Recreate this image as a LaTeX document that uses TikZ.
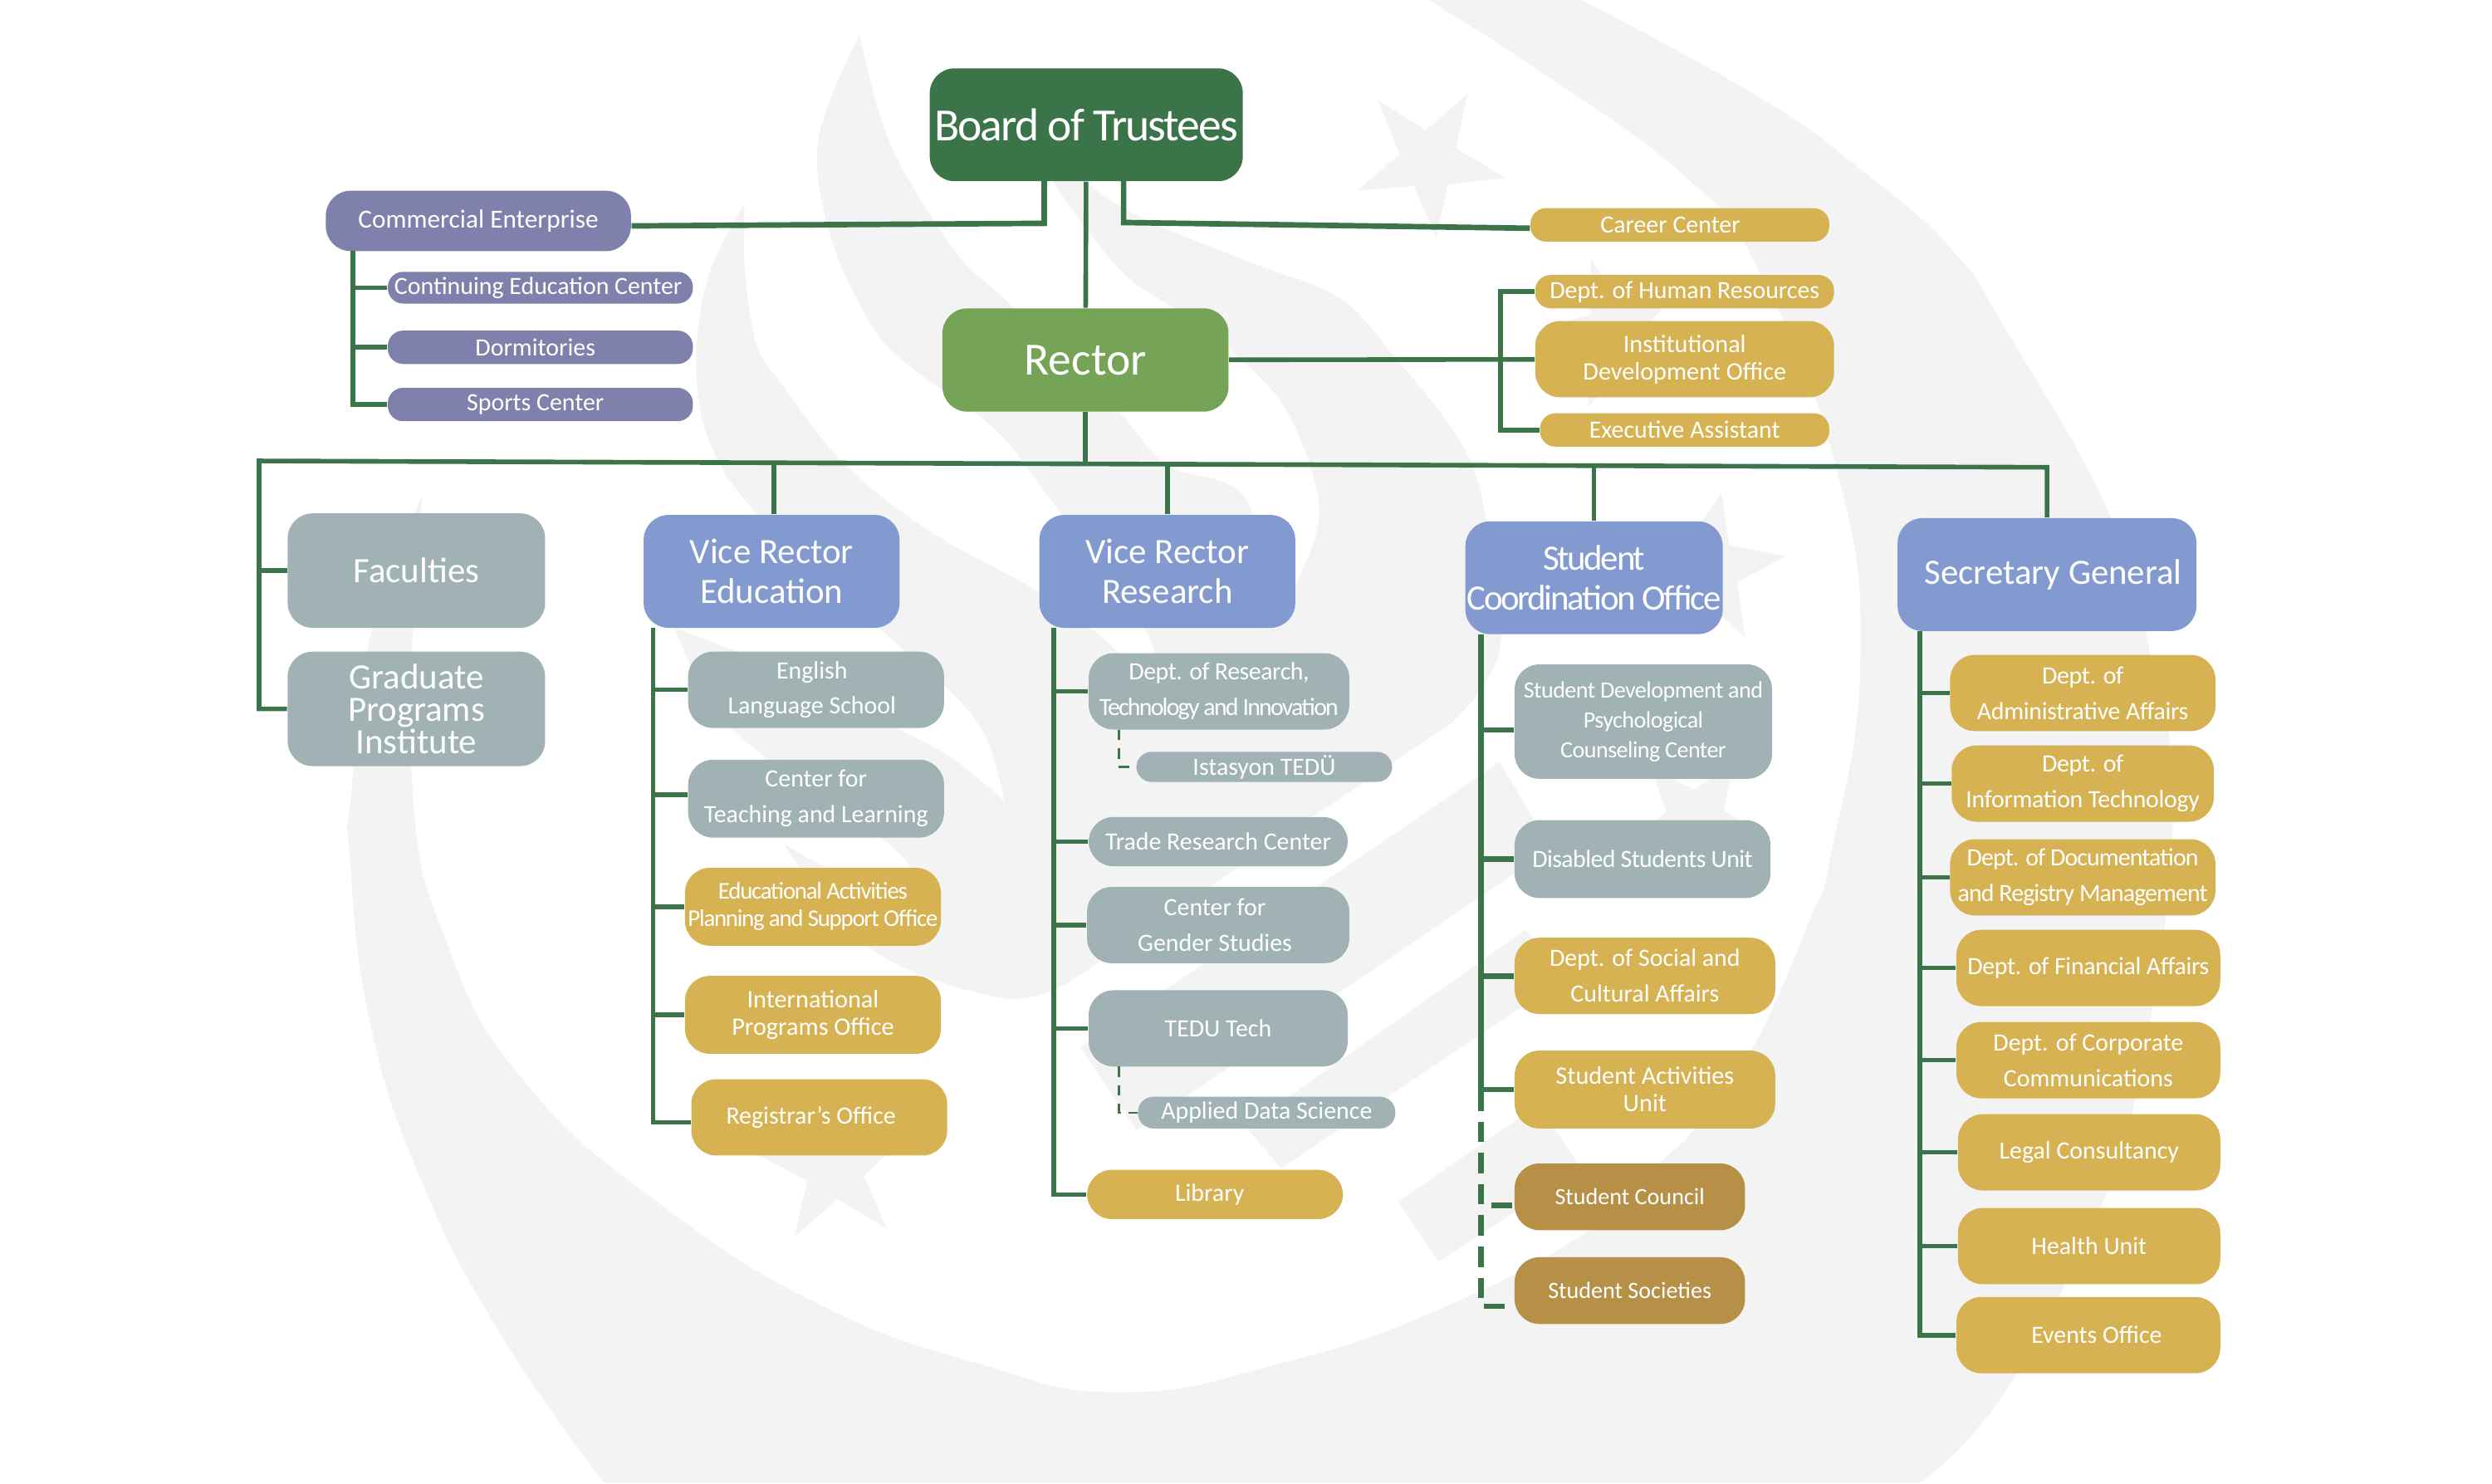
\documentclass[tikz,border=0pt]{standalone}
\usepackage{fontspec}
\setmainfont{Carlito}
\usepackage{tikz}
\definecolor{bggray}{HTML}{F3F3F3}
\definecolor{linegreen}{HTML}{3C7449}
\definecolor{boardgreen}{HTML}{3C7449}
\definecolor{rectorgreen}{HTML}{75A456}
\definecolor{enterprise}{HTML}{7F80AB}
\definecolor{gold}{HTML}{D6B252}
\definecolor{brown}{HTML}{B59046}
\definecolor{slategray}{HTML}{A0B2B4}
\definecolor{headblue}{HTML}{829AD0}
\newcommand{\tighter}[1]{\addfontfeature{LetterSpace=#1}}
\tikzset{wh/.style 2 args={minimum width=#1*0.01914cm, minimum height=#2*0.01914cm},
    squeeze/.style={execute at begin node={\tighter{#1}}}}
\tikzstyle{unit} = [rectangle, rounded corners=0.3cm, inner sep=0pt, align=center, text=white]
\tikzstyle{topfont} = [font=\fontsize{15.8}{18}\selectfont]
\tikzstyle{headfont} = [font=\fontsize{12.2}{13.8}\selectfont]
\tikzstyle{instfont} = [font=\fontsize{12.2}{11}\selectfont]
\tikzstyle{itemfont} = [font=\fontsize{8.5}{12.2}\selectfont]
\tikzstyle{tightfont} = [font=\fontsize{8.6}{9.4}\selectfont]
\tikzstyle{smallfont} = [font=\fontsize{8}{10.3}\selectfont]
\tikzstyle{pill} = [rounded corners=0.185cm]
\tikzstyle{grayunit} = [unit, fill=slategray, itemfont]
\tikzstyle{goldunit} = [unit, fill=gold, itemfont]
\tikzstyle{purpleunit} = [unit, fill=enterprise, itemfont]
\tikzstyle{brownunit} = [unit, fill=brown, smallfont]
\tikzstyle{headunit} = [unit, fill=headblue, headfont]
\tikzstyle{conn} = [draw=linegreen, line width=1.6pt, line join=miter]
\tikzstyle{trunk} = [draw=linegreen, line width=1.9pt, line join=miter]
\tikzstyle{dashthin} = [draw=linegreen, line width=0.7pt, dash pattern=on 3.6pt off 2.8pt]
\tikzstyle{dashthick} = [draw=linegreen, line width=1.9pt, dash pattern=on 7pt off 3.7pt]
\tikzstyle{backshape} = [fill=bggray, draw=none]

\begin{document}
\begin{tikzpicture}[x=0.01914cm, y=-0.01914cm]
\useasboundingbox (0,0) rectangle (1568,933.65);

% background emblem
\fill [backshape] plot [smooth, tension=0.8] coordinates {(265.6,312) (233,400) (221,500) (220,538) (233,644) (266,745) (316,841) (380,933)}
    -- plot [smooth, tension=0.8] coordinates {(1208,933) (1262,875) (1322,759) (1342,699) (1367,523) (1353,412) (1328,325) (1263,209) (1228,157) (1170,106) (1105,60) (995,0)}
    -- plot [smooth, tension=0.8] coordinates {(899,0) (972,47) (1059,110) (1105,167) (1155,293) (1170.6,416) (1152,538) (1139,578) (1102,661) (1067,709.5) (1045,731) (1000,774) (905,824) (805,858) (705,876) (616,858) (516,821) (416,758) (333,684) (283,598) (259,488) (265.6,312)}
    -- cycle;
\fill [backshape] plot [smooth, tension=0.6] coordinates {(541,22) (560,90) (600,157) (631,187) (668,222) (705,260) (735,293) (784,314) (802,395)}
    -- plot [smooth, tension=0.6] coordinates {(802,395) (816,367) (830,320) (812,263) (782,227) (740,195) (705,170) (663,115) (650,85)}
    -- plot [smooth, tension=0.6] coordinates {(650,85) (705,130) (784,164) (842,187) (877,224) (919,278) (935,325) (944.6,399) (933,432) (913,455)}
    -- (674,617)
    -- plot [smooth, tension=0.6] coordinates {(674,617) (632,628) (549.5,598) (493,531)}
    -- plot [smooth, tension=0.6] coordinates {(493,531) (520,546) (560,565)}
    -- plot [smooth, tension=0.6] coordinates {(573,546) (553,526) (460,458) (424.6,395)}
    -- plot [smooth, tension=0.6] coordinates {(424.6,395) (500,425) (564,458) (599,477) (632,504)}
    -- plot [smooth, tension=0.6] coordinates {(632,504) (620,463) (595,432) (553,395) (476,323) (446,277) (438,227) (446,173) (468.6,128)}
    -- plot [smooth, tension=0.6] coordinates {(468.6,128) (468.5,167) (476,217) (493,243) (529.5,290) (583,333) (649.5,370) (686,395) (704.5,411.5) (730,440)}
    -- plot [smooth, tension=0.6] coordinates {(730,440) (721,397) (660,313) (626,270) (576,233) (550,207) (523,150) (515,87) (541,22)}
    -- cycle;
\fill [backshape] (680,659) -- (715,711) -- (976,534) -- (943.6,479.5) -- cycle;
\fill [backshape] (784,709) -- (806,735) -- (985,615) -- (960,585) -- cycle;
\fill [backshape] (880,756) -- (905,794) -- (995,735) -- (968,695) -- cycle;
\fill [backshape] (867,63) -- (897,82) -- (923.6,59) -- (916,93) -- (947,112) -- (911,116) -- (903.6,150) -- (889.6,117) -- (854,120) -- (880.6,97) -- cycle;
\fill [backshape] (476,726) -- (508,743) -- (500,778) -- (527,754.5) -- (558,773) -- (543.6,740) -- (558,726) -- (530,690) -- cycle;
\fill [backshape] (1083,310) -- (1088,343) -- (1124,350) -- (1093,366) -- (1098,401) -- (1075,380) -- (1060,345) -- cycle;
\fill [backshape] (1001,163) -- (1010,176) -- (1045.7,195) -- (1032,208) -- (1050,240) -- (1020,235) -- (999,256) -- (1001,225) -- (975,205) -- (1001,198) -- cycle;
\fill [backshape] (1039,483) -- (1066,497) -- (1091,480) -- (1084.6,510) -- (1094,516) -- (1080,540) -- (1050,540) -- (1038,518) -- (1048.5,511) -- cycle;

% top of the chart
\node (board) [unit, fill=boardgreen, topfont, squeeze=-3.6, wh={197}{71}] at (683.5,78.5) {Board of Trustees};
\node (rector) [unit, fill=rectorgreen, topfont, wh={180}{65}] at (683,226.5) {Rector};
\node (commercial) [purpleunit, font=\fontsize{8.9}{12}\selectfont, wh={192}{38}] at (301,139) {Commercial Enterprise};
\node (continuing) [purpleunit, pill, wh={192}{20}] at (340,181) {\hspace*{-0.05cm}Continuing Education Center};
\node (dormitories) [purpleunit, pill, wh={192}{21}] at (340,218.5) {\hspace*{-0.12cm}Dormitories};
\node (sports) [purpleunit, pill, wh={192}{21}] at (340,254.5) {\hspace*{-0.12cm}Sports Center};
\node (career) [goldunit, pill, wh={188}{21}] at (1057,141.5) {\hspace*{-0.23cm}Career Center};
\node (hr) [goldunit, pill, wh={188}{21}] at (1060,183.5) {Dept. of Human Resources};
\node (inst) [goldunit, tightfont, wh={188}{48}] at (1060,226) {Institutional\\Development Office};
\node (exec) [goldunit, pill, wh={182}{21}] at (1060,270.5) {Executive Assistant};

% left column
\node (faculties) [grayunit, headfont, wh={162}{72}] at (262,359) {Faculties};
\node (graduate) [grayunit, instfont, wh={162}{72}] at (262,446) {Graduate\\Programs\\Institute};

% vice rector education
\node (vredu) [headunit, wh={161}{71}] at (485.5,359.5) {Vice Rector\\Education};
\node (english) [grayunit, wh={161}{48}] at (513.5,434) {\hspace*{-0.1cm}English\\\hspace*{-0.1cm}Language School};
\node (teaching) [grayunit, wh={161}{49}] at (513.5,502.5) {Center for\\Teaching and Learning};
\node (eduact) [goldunit, font=\fontsize{8.2}{9.4}\selectfont, squeeze=-4.3, wh={161}{49}] at (511.5,570.5) {Educational Activities\\Planning and Support Office};
\node (intl) [goldunit, tightfont, wh={161}{49}] at (511.5,638.5) {International\\Programs Office};
\node (registrar) [goldunit, wh={161}{48}] at (515.5,703) {\hspace*{-0.2cm}Registrar’s Office};

% vice rector research
\node (vrres) [headunit, wh={161}{71}] at (734.5,359.5) {Vice Rector\\Research};
\node (deptres) [grayunit, wh={164}{48}] at (767,435) {\tighter{-1.5}Dept. of Research,\\{\tighter{-6}Technology and Innovation}};
\node (istasyon) [grayunit, pill, wh={161}{19}] at (795.5,482.5) {Istasyon TEDÜ};
\node (trade) [grayunit, wh={163}{31}] at (766.5,529.5) {Trade Research Center};
\node (gender) [grayunit, wh={165}{48}] at (766.5,582) {\hspace*{-0.08cm}Center for\\\hspace*{-0.08cm}Gender Studies};
\node (tedutech) [grayunit, wh={163}{48}] at (766.5,647) {TEDU Tech};
\node (applied) [grayunit, pill, wh={162}{20}] at (797,700) {Applied Data Science};
\node (library) [goldunit, wh={161}{31}] at (764.5,751.5) {\hspace*{-0.13cm}Library};

% student coordination
\node (stucoord) [headunit, squeeze=-5.4, wh={162}{71}] at (1003,363.5) {Student\\Coordination Office};
\node (sdpc) [grayunit, smallfont, squeeze=-2, wh={162}{72}] at (1034,454) {Student Development and\\Psychological\\Counseling Center};
\node (disabled) [grayunit, squeeze=-2, wh={161}{49}] at (1033.5,540.5) {Disabled Students Unit};
\node (social) [goldunit, wh={164}{48}] at (1035,614) {Dept. of Social and\\Cultural Affairs};
\node (activities) [goldunit, tightfont, wh={164}{49}] at (1035,685.5) {Student Activities\\Unit};
\node (council) [brownunit, wh={145}{42}] at (1025.5,753) {Student Council};
\node (societies) [brownunit, wh={145}{42}] at (1025.5,812) {Student Societies};

% secretary general
\node (secgen) [headunit, wh={188}{71}] at (1288,361.5) {\hspace*{0.15cm}Secretary General};
\node (admin) [goldunit, squeeze=-1, wh={167}{48}] at (1310.5,436) {Dept. of\\Administrative Affairs};
\node (infotech) [goldunit, squeeze=-1, wh={165}{48}] at (1310.5,493) {Dept. of\\Information Technology};
\node (docreg) [goldunit, squeeze=-3, wh={167}{48}] at (1310.5,552) {Dept. of Documentation\\and Registry Management};
\node (financial) [goldunit, squeeze=-1, wh={166}{48}] at (1314,609) {Dept. of Financial Affairs};
\node (corporate) [goldunit, wh={166}{48}] at (1314,667) {Dept. of Corporate\\Communications};
\node (legal) [goldunit, wh={165}{48}] at (1314.5,725) {Legal Consultancy};
\node (health) [goldunit, wh={165}{48}] at (1314.5,784) {Health Unit};
\node (events) [goldunit, wh={166}{48}] at (1314,840) {\hspace*{0.2cm}Events Office};

% joints for the connectors
\coordinate (boardleft) at (657,114);
\coordinate (boardright) at (707,114);
\coordinate (elbowleft) at (657,140.5);
\coordinate (elbowright) at (707,140);
\coordinate (comtrunk) at (222,158);
\coordinate (hrtrunk) at (944,227);
\coordinate (busleft) at (163,290);
\coordinate (busmid) at (683,292);
\coordinate (busright) at (1288,294);
\coordinate (edutrunk) at (411,395);
\coordinate (restrunk) at (663,395);
\coordinate (stutrunk) at (932,399);
\coordinate (sectrunk) at (1208,397);
\coordinate (stuend) at (932,686);
\coordinate (deptstub) at (704,459);
\coordinate (techstub) at (704,671);

\draw [conn] (board) -- (rector);
\draw [trunk] (boardleft) -- (elbowleft) -- ([yshift=-0.06cm]commercial.east);
\draw [trunk] (boardright) -- (elbowright) -- ([yshift=-0.04cm]career.west);
\draw [conn] (rector) -- (inst);
\draw [conn] (hr.west) -| (hrtrunk) |- (exec.west);
\draw [conn] (comtrunk) |- (continuing.west);
\draw [conn] (comtrunk) |- (dormitories.west);
\draw [conn] (comtrunk) |- (sports.west);

\draw [conn] (rector) -- (busmid);
\draw [conn] (graduate.west) -| (busleft) -- (busright) -- (secgen.north);
\draw [conn] (faculties.west) -| (busleft);
\draw [conn] ([xshift=0.03cm]vredu.north) -- ([xshift=0.03cm]vredu.north |- busmid);
\draw [conn] (vrres.north) -- (vrres.north |- busmid);
\draw [conn] (stucoord.north) -- (stucoord.north |- busright);

\foreach \item in {english, eduact, intl}
    \draw [conn] (edutrunk) |- (\item.west);
\draw [conn] (edutrunk) |- ([yshift=0.05cm]teaching.west);
\draw [conn] (edutrunk) |- ([yshift=-0.06cm]registrar.west);
\foreach \item in {deptres, trade, gender, tedutech, library}
    \draw [conn] (restrunk) |- (\item.west);
\foreach \item in {disabled, social, activities}
    \draw [trunk] (stutrunk) |- (\item.west);
\draw [trunk] (stutrunk) |- ([yshift=-0.1cm]sdpc.west);
\foreach \item in {admin, infotech, docreg, financial, corporate, legal, health, events}
    \draw [conn] (sectrunk) |- (\item.west);

\draw [dashthin] (deptstub) |- (istasyon.west);
\draw [dashthin] (techstub) |- (applied.west);
\draw [dashthick] (stuend) |- ([yshift=-0.1cm]council.west);
\draw [dashthick] (stuend) |- ([yshift=-0.19cm]societies.west);
\end{tikzpicture}
\end{document}
